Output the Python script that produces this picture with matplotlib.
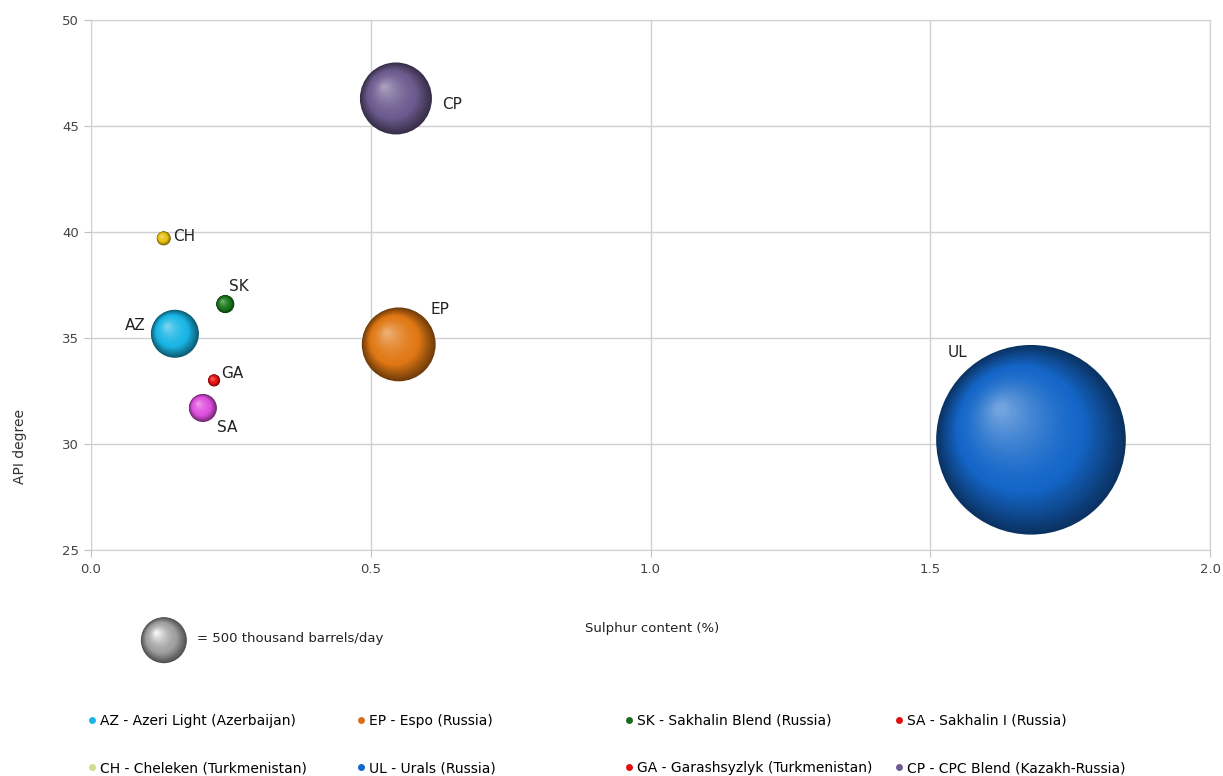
import numpy as np
import matplotlib
matplotlib.use('Agg')
import matplotlib.pyplot as plt
from matplotlib.colors import to_rgb
from matplotlib.lines import Line2D
from matplotlib.transforms import offset_copy

# crude oil grades: sulphur (%), API gravity, export volume (thousand barrels/day)
codes = ['AZ', 'CH', 'EP', 'UL', 'SK', 'GA', 'SA', 'CP']
names = ['Azeri Light (Azerbaijan)', 'Cheleken (Turkmenistan)', 'Espo (Russia)', 'Urals (Russia)',
         'Sakhalin Blend (Russia)', 'Garashsyzlyk (Turkmenistan)', 'Sakhalin I (Russia)',
         'CPC Blend (Kazakh-Russia)']
sulphur = [0.15, 0.13, 0.55, 1.68, 0.24, 0.22, 0.20, 0.545]
api = [35.2, 39.7, 34.7, 30.2, 36.6, 33.0, 31.7, 46.3]
volume = [545, 46, 1290, 8500, 77, 34, 185, 1225]
ref_volume = 500

bubble_colors = ['#1ab6e6', '#e8c010', '#e07814', '#1466c8', '#1c7a1c', '#e81010', '#e050e0', '#6e5c90']
legend_colors = ['#1ab6e6', '#d6da8c', '#d8701c', '#1466c8', '#1c6a1c', '#e01010', '#e01010', '#6e5c90']

# label offsets in points (dx, dy, ha)
label_pos = [(-21, 6, 'right'), (7, 1, 'left'), (23, 25, 'left'), (-60, 63, 'left'),
             (3, 13, 'left'), (5, 5, 'left'), (10, -14, 'left'), (33, -4, 'left')]

S_PER_UNIT = (0.72 * 46) ** 2 / ref_volume


def blend(c, f):
    c = np.array(to_rgb(c))
    if f < 0:
        return tuple(c * (1 + f))
    return tuple(c + (1 - c) * f)


def sphere(ax, fig, x, y, s, color, transform, zorder=3, light=0.4):
    r = np.sqrt(s) / 2
    n = 36
    for i in range(n):
        t = i / (n - 1)
        size = s * (1 - 0.94 * t) ** 2
        if t < 0.35:
            col = blend(color, -0.5 * (1 - t / 0.35))
        else:
            col = blend(color, light * ((t - 0.35) / 0.65) ** 1.5)
        tr = offset_copy(transform, fig=fig, x=-0.32 * r * t, y=0.32 * r * t, units='points')
        ax.scatter([x], [y], s=size, color=col, transform=tr, edgecolors='none',
                   zorder=zorder, clip_on=False)


fig = plt.figure(figsize=(12.23, 7.76), dpi=100)
ax = fig.add_axes([0.0744, 0.2912, 0.915, 0.683])

order = np.argsort(volume)[::-1]
for k, i in enumerate(order):
    sphere(ax, fig, sulphur[i], api[i], volume[i] * S_PER_UNIT, bubble_colors[i], ax.transData,
           zorder=3 + k)
    dx, dy, ha = label_pos[i]
    ax.annotate(codes[i], (sulphur[i], api[i]), xytext=(dx, dy), textcoords='offset points',
                ha=ha, va='center', fontsize=11, color='#222222', zorder=20)

ax.set_xlim(0, 2.0)
ax.set_ylim(25, 50)
ax.set_xticks([0, 0.5, 1.0, 1.5, 2.0])
ax.set_xticklabels(['0.0', '0.5', '1.0', '1.5', '2.0'])
ax.set_yticks([25, 30, 35, 40, 45, 50])
ax.grid(True, color='#d0d0d0', linewidth=1)
ax.set_axisbelow(True)
for sp in ax.spines.values():
    sp.set_color('#d0d0d0')
ax.tick_params(colors='#444444', labelsize=9.5, length=5, color='#c0c0c0')
ax.tick_params(axis='x', pad=4)

fig.text(0.016, 0.425, 'API degree', rotation=90, ha='center', va='center', fontsize=10, color='#333333')
fig.text(0.533, 0.19, 'Sulphur content (%)', ha='center', va='center', fontsize=9.5, color='#222222')

# size key
sphere(ax, fig, 0.134, 0.175, ref_volume * S_PER_UNIT, '#a0a0a0', fig.transFigure, zorder=5, light=0.9)
fig.text(0.161, 0.177, '= 500 thousand barrels/day', ha='left', va='center', fontsize=9.5, color='#222222')

# legend: 4 columns x 2 rows
col_x = [0.0715, 0.2915, 0.5105, 0.7315]
for c in range(4):
    handles = []
    for r in range(2):
        i = c * 2 + r
        handles.append(Line2D([], [], marker='o', linestyle='none', markersize=5,
                              markerfacecolor=legend_colors[i], markeredgecolor='none',
                              label=f'{codes[i]} - {names[i]}'))
    fig.legend(handles=handles, loc='center left', bbox_to_anchor=(col_x[c], 0.0406),
               frameon=False, fontsize=10, handlelength=0.6, handletextpad=0.3,
               labelspacing=2.4, borderaxespad=0, borderpad=0)

fig.savefig('out.png', dpi=100)
